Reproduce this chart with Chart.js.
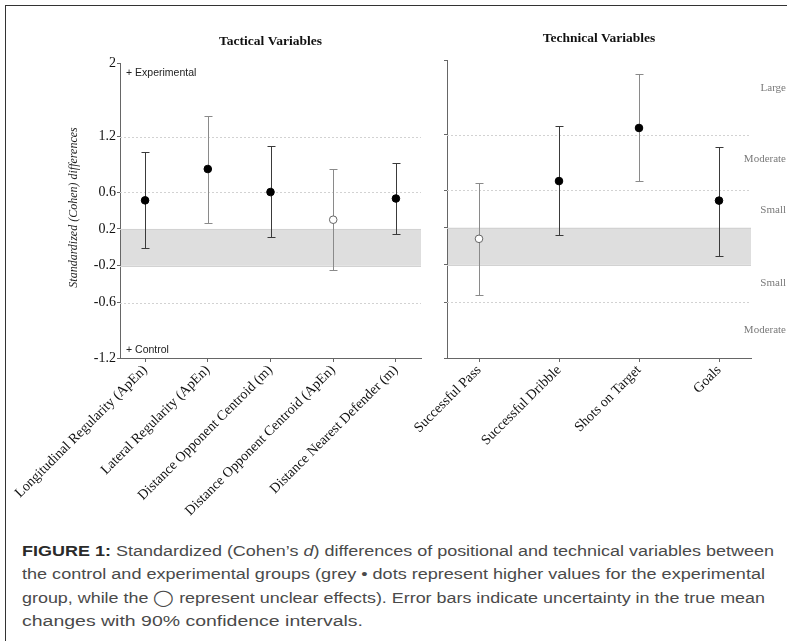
<!DOCTYPE html>
<html><head><meta charset="utf-8">
<script src="https://cdn.jsdelivr.net/npm/chart.js@4.4.0/dist/chart.umd.min.js"></script>
<style>
html,body{margin:0;padding:0;background:#fff;width:787px;height:641px;overflow:hidden;}
#frame{position:absolute;left:5px;top:5px;width:800px;height:700px;border-left:1.6px solid #333;border-top:1.6px solid #333;}
#c1{position:absolute;left:0;top:0;}
#c2{position:absolute;left:380px;top:0;}
#caption{position:absolute;left:21.5px;top:539px;font-family:'Liberation Sans',Arial,sans-serif;font-size:15.5px;line-height:23.3px;color:#4a4a4a;}
#caption div{white-space:nowrap;transform-origin:0 0;width:max-content;}
#caption b{color:#2a2a2a;}
</style></head>
<body>
<div id="frame"></div>
<canvas id="c1" width="430" height="525"></canvas>
<canvas id="c2" width="407" height="525"></canvas>
<div id="caption">
<div data-w="752"><b>FIGURE 1:</b> Standardized (Cohen’s <i>d</i>) differences of positional and technical variables between</div>
<div data-w="743">the control and experimental groups (grey • dots represent higher values for the experimental</div>
<div data-w="743">group, while the ◯ represent unclear effects). Error bars indicate uncertainty in the true mean</div>
<div data-w="341">changes with 90% confidence intervals.</div>
</div>
<script>
// ---- data ----
const tacticalLabels = ['Longitudinal Regularity (ApEn)','Lateral Regularity (ApEn)','Distance Opponent Centroid (m)','Distance Opponent Centroid (ApEn)','Distance Nearest Defender (m)'];
const tacticalMean   = [0.51, 0.85, 0.60, 0.30, 0.53];
const tacticalLower  = [-0.01, 0.26, 0.11, -0.25, 0.14];
const tacticalUpper  = [1.03, 1.43, 1.10, 0.85, 0.92];
const tacticalUnclear = [false, false, false, true, false];

const technicalLabels = ['Successful Pass','Successful Dribble','Shots on Target','Goals'];
const technicalMean   = [0.08, 0.70, 1.27, 0.49];
const technicalLower  = [-0.52, 0.12, 0.70, -0.10];
const technicalUpper  = [0.68, 1.29, 1.85, 1.07];
const technicalUnclear = [true, false, false, false];

const yTicks = [2, 1.2, 0.6, 0.2, -0.2, -0.6, -1.2];
const gridValues = [1.2, 0.6, -0.6];
const trivialBand = [-0.2, 0.2];
const magnitudeLabels = ['Large','Moderate','Small','Small','Moderate'];
const magnitudeValues = [1.7, 0.94, 0.39, -0.40, -0.90];
const groupLabels = ['+ Experimental','+ Control'];
const groupValues = [1.895, -1.11];

// ---- style ----
const SERIF = '"Liberation Serif","Times New Roman",serif';
const tacticalBarColors = ['#3a3a3a','#8a8a8a','#3a3a3a','#8a8a8a','#3a3a3a'];
const technicalBarColors = ['#8a8a8a','#3a3a3a','#8a8a8a','#3a3a3a'];

const decor = {
  id: 'decor',
  beforeDatasetsDraw(chart, args, o) {
    const {ctx, chartArea: a, scales: {x, y}} = chart;
    ctx.save();
    const yt = y.getPixelForValue(trivialBand[1]), yb = y.getPixelForValue(trivialBand[0]);
    ctx.fillStyle = '#dedede';
    ctx.fillRect(a.left + 1, yt, a.right - a.left - 1, yb - yt);
    ctx.strokeStyle = '#d2d2d2'; ctx.lineWidth = 1;
    [yt, yb].forEach(p => { ctx.beginPath(); ctx.moveTo(a.left, Math.round(p) + 0.5); ctx.lineTo(a.right, Math.round(p) + 0.5); ctx.stroke(); });
    ctx.setLineDash([2, 2]);
    gridValues.forEach(v => {
      const py = Math.round(y.getPixelForValue(v)) + 0.5;
      ctx.beginPath(); ctx.moveTo(a.left, py); ctx.lineTo(a.right, py); ctx.stroke();
    });
    ctx.setLineDash([]);
    ctx.lineWidth = 1;
    o.lower.forEach((lo, i) => {
      const hi = o.upper[i];
      const px = Math.round(x.getPixelForValue(i)) + 0.5;
      const p1 = Math.round(y.getPixelForValue(hi)) + 0.5, p2 = Math.round(y.getPixelForValue(lo)) + 0.5;
      ctx.strokeStyle = o.colors[i];
      ctx.beginPath();
      ctx.moveTo(px, p1); ctx.lineTo(px, p2);
      ctx.moveTo(px - 4, p1); ctx.lineTo(px + 4, p1);
      ctx.moveTo(px - 4, p2); ctx.lineTo(px + 4, p2);
      ctx.stroke();
    });
    ctx.restore();
  },
  afterDraw(chart, args, o) {
    const {ctx, chartArea: a, scales: {y}} = chart;
    ctx.save();
    ctx.fillStyle = '#111';
    ctx.font = 'bold 13.5px ' + SERIF;
    ctx.textAlign = 'center'; ctx.textBaseline = 'middle';
    ctx.fillText(o.title, (a.left + a.right) / 2, o.titleY);
    if (o.yTitle) {
      ctx.save();
      ctx.translate(74, 207.5); ctx.rotate(-Math.PI / 2);
      ctx.font = 'italic 12px ' + SERIF; ctx.fillStyle = '#222';
      ctx.fillText(o.yTitle, 0, 0);
      ctx.restore();
    }
    if (o.groups) {
      ctx.font = '10.5px "Liberation Sans",Arial,sans-serif'; ctx.fillStyle = '#222';
      ctx.textAlign = 'left';
      groupLabels.forEach((t, i) => ctx.fillText(t, a.left + 6, y.getPixelForValue(groupValues[i])));
    }
    if (o.magnitudes) {
      ctx.font = '11px ' + SERIF; ctx.fillStyle = '#7a7a7a';
      ctx.textAlign = 'right';
      magnitudeLabels.forEach((t, i) => ctx.fillText(t, chart.width - 1, y.getPixelForValue(magnitudeValues[i])));
    }
    ctx.restore();
  }
};

function makeChart(id, labels, mean, lower, upper, unclear, colors, cfg) {
  return new Chart(document.getElementById(id), {
    type: 'scatter',
    data: { datasets: [{
      data: mean.map((v, i) => ({x: i, y: v})),
      pointRadius: 3.8, pointHoverRadius: 3.8,
      pointBackgroundColor: unclear.map(u => u ? '#ffffff' : '#000000'),
      pointBorderColor: unclear.map(u => u ? '#666666' : '#000000'),
      pointBorderWidth: 1, showLine: false
    }]},
    options: {
      responsive: false, animation: false, devicePixelRatio: 1,
      layout: { padding: { top: cfg.top, right: cfg.right, left: 0, bottom: 0 } },
      plugins: {
        legend: { display: false }, tooltip: { enabled: false },
        decor: { lower, upper, colors, title: cfg.title, titleY: cfg.titleY, yTitle: cfg.yTitle, groups: cfg.groups, magnitudes: cfg.magnitudes }
      },
      scales: {
        x: {
          type: 'linear', min: -0.4, max: labels.length - 0.6,
          afterBuildTicks: s => { s.ticks = labels.map((_, i) => ({value: i})); },
          afterFit: s => { s.height = 525 - 358; s.paddingLeft = 0; s.paddingRight = 0; },
          ticks: { callback: (v, i) => labels[i], minRotation: 45, maxRotation: 45, autoSkip: false, padding: 0,
                   font: { family: SERIF, size: 14 }, color: '#111' },
          grid: { drawOnChartArea: false, tickLength: 4, tickColor: '#666' },
          border: { color: '#666', width: 1 }
        },
        y: {
          type: 'linear', min: -1.2, max: 2,
          afterBuildTicks: s => { s.ticks = yTicks.map(v => ({value: v})); },
          afterFit: s => { s.width = cfg.yWidth; s.paddingTop = 0; s.paddingBottom = 0; },
          ticks: { callback: v => cfg.yLabels ? String(v) : '', padding: 1, autoSkip: false,
                   font: { family: SERIF, size: 14 }, color: '#111' },
          grid: { drawOnChartArea: false, tickLength: 3, tickColor: '#666' },
          border: { color: '#666', width: 1 }
        }
      }
    },
    plugins: [decor]
  });
}

makeChart('c1', tacticalLabels, tacticalMean, tacticalLower, tacticalUpper, tacticalUnclear, tacticalBarColors,
  { top: 63, right: 9, yWidth: 120, title: 'Tactical Variables', titleY: 42, yTitle: 'Standardized (Cohen) differences', groups: true, yLabels: true });
makeChart('c2', technicalLabels, technicalMean, technicalLower, technicalUpper, technicalUnclear, technicalBarColors,
  { top: 60, right: 36, yWidth: 67, title: 'Technical Variables', titleY: 39, magnitudes: true, yLabels: false });

document.querySelectorAll('#caption div').forEach(d => {
  const w = d.getBoundingClientRect().width;
  const t = parseFloat(d.dataset.w);
  d.style.transform = 'scaleX(' + (t / w) + ')';
});
</script>
</body></html>
